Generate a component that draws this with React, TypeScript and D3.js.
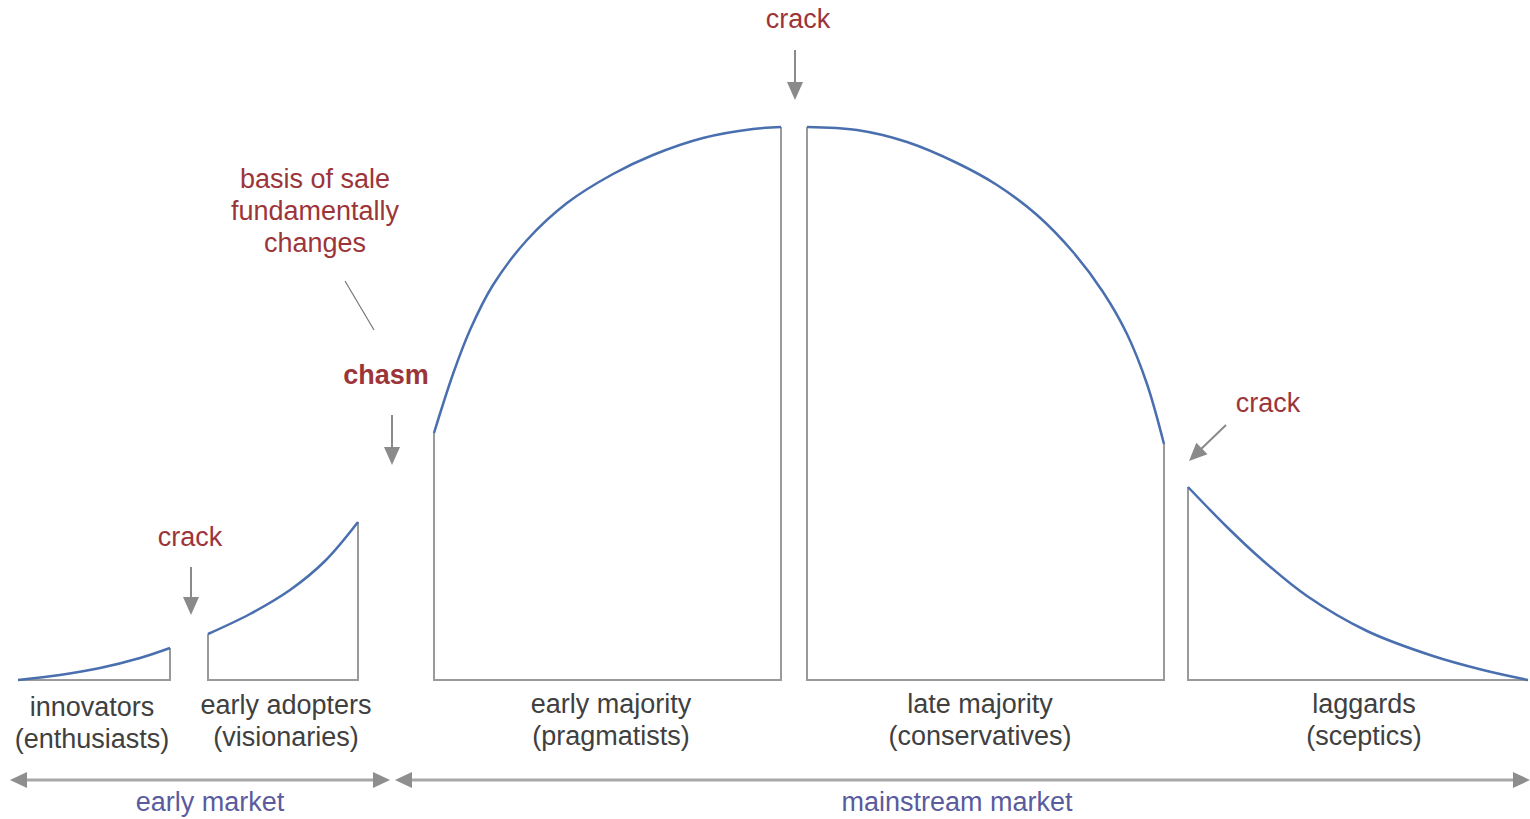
import React from "react";
import * as d3 from "d3";

// ---- data (x position along adoption axis, height of adoption curve) ----
const segmentNames = ["innovators", "early adopters", "early majority", "late majority", "laggards"];
const segmentSubs = ["(enthusiasts)", "(visionaries)", "(pragmatists)", "(conservatives)", "(sceptics)"];
const innovators: [number, number][] = [[18, 0], [60, 5], [100, 12], [140, 22], [170, 32]];
const earlyAdopters: [number, number][] = [[208, 46], [250, 66], [290, 90], [325, 119], [358, 158]];
const earlyMajority: [number, number][] = [[434, 247], [453, 306], [470, 350], [493, 395], [527, 440], [567, 477], [613, 506], [653, 525], [703, 542], [753, 551], [781, 553]];
const lateMajority: [number, number][] = [[807, 553], [857, 550], [907, 538], [957, 517], [997, 495], [1037, 465], [1073, 428], [1103, 388], [1127, 346], [1147, 296], [1164, 236]];
const laggards: [number, number][] = [[1188, 193], [1227, 153], [1260, 122], [1307, 84], [1367, 49], [1433, 24], [1483, 10], [1528, 0]];
const segments = [innovators, earlyAdopters, earlyMajority, lateMajority, laggards];
const labelCenters = [92, 286, 611, 980, 1364];
const labelBaseOffsets = [0, -2, -3, -3, -3];

const marketNames = ["early market", "mainstream market"];
const marketRanges: [number, number][] = [[10, 390], [395, 1530]];
const marketCenters = [210, 957];

const WIDTH = 1530;
const HEIGHT = 819;
const BLUE = "#4a6faf";
const GRAY = "#9a9a9a";
const RED = "#9c3539";
const TEXT = "#404040";
const PURPLE = "#5a5b9e";
const FONT = "'Liberation Sans', Arial, Helvetica, sans-serif";
const FS = 27;

export default function App() {
  const x = d3.scaleLinear().domain([0, WIDTH]).range([0, WIDTH]);
  const y = d3.scaleLinear().domain([0, 560]).range([680, 120]);
  const line = d3
    .line<[number, number]>()
    .x((d) => x(d[0]))
    .y((d) => y(d[1]))
    .curve(d3.curveCatmullRom.alpha(0.5));

  const outline = (pts: [number, number][]) => {
    const first = pts[0];
    const last = pts[pts.length - 1];
    return `M${x(first[0])},${y(first[1])}L${x(first[0])},${y(0)}L${x(last[0])},${y(0)}L${x(last[0])},${y(last[1])}`;
  };

  const arrowHead = (tx: number, ty: number, dx: number, dy: number, len: number, hw: number) => {
    const n = Math.hypot(dx, dy);
    const ux = dx / n, uy = dy / n;
    const bx = tx - ux * len, by = ty - uy * len;
    const px = -uy * hw, py = ux * hw;
    return `M${tx},${ty}L${bx + px},${by + py}L${bx - px},${by - py}Z`;
  };

  const downArrow = (cx: number, y0: number, y1: number) => (
    <g>
      <line x1={cx} y1={y0} x2={cx} y2={y1 - 14} stroke="#8a8a8a" strokeWidth={2} />
      <path d={arrowHead(cx, y1, 0, 1, 18, 8)} fill="#8a8a8a" />
    </g>
  );

  return (
    <svg
      width={WIDTH}
      height={HEIGHT}
      style={{ position: "absolute", left: 0, top: 0, background: "#fff" }}
      fontFamily={FONT}
    >
      {segments.map((pts, i) => (
        <g key={i}>
          <path d={outline(pts)} fill="none" stroke={GRAY} strokeWidth={2} />
          <path d={line(pts) || ""} fill="none" stroke={BLUE} strokeWidth={2.5} />
        </g>
      ))}

      {segmentNames.map((n, i) => (
        <g key={n} fontSize={FS} fill={TEXT} textAnchor="middle">
          <text x={labelCenters[i]} y={716 + labelBaseOffsets[i]}>{n}</text>
          <text x={labelCenters[i]} y={748 + labelBaseOffsets[i]}>{segmentSubs[i]}</text>
        </g>
      ))}

      {marketNames.map((n, i) => {
        const [a, b] = marketRanges[i];
        return (
          <g key={n}>
            <line x1={a + 14} y1={780} x2={b - 14} y2={780} stroke="#a8a8a8" strokeWidth={3} />
            <path d={arrowHead(a, 780, -1, 0, 17, 8)} fill="#8e8e8e" />
            <path d={arrowHead(b, 780, 1, 0, 17, 8)} fill="#8e8e8e" />
            <text x={marketCenters[i]} y={811} fontSize={FS} fill={PURPLE} textAnchor="middle">{n}</text>
          </g>
        );
      })}

      <g fill={RED} fontSize={FS} textAnchor="middle">
        <text x={798} y={28}>crack</text>
        <text x={190} y={546}>crack</text>
        <text x={1268} y={412}>crack</text>
        <text x={315} y={188}>basis of sale</text>
        <text x={315} y={220}>fundamentally</text>
        <text x={315} y={252}>changes</text>
        <text x={386} y={384} fontWeight="bold">chasm</text>
      </g>

      {downArrow(795, 50, 100)}
      {downArrow(191, 567, 615)}
      {downArrow(392, 415, 465)}
      <line x1={1226} y1={425} x2={1199} y2={451} stroke="#8a8a8a" strokeWidth={2} />
      <path d={arrowHead(1189, 461, -37, 36, 18, 8)} fill="#8a8a8a" />
      <line x1={345} y1={281} x2={374} y2={330} stroke="#777" strokeWidth={1.2} />
    </svg>
  );
}
